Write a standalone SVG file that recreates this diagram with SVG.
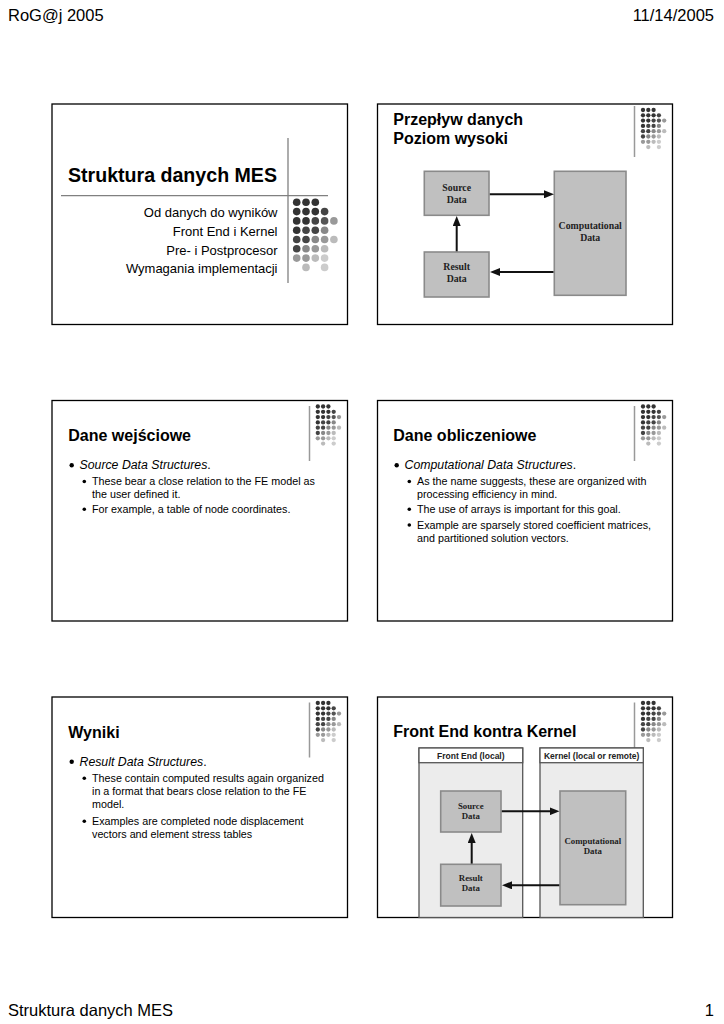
<svg xmlns="http://www.w3.org/2000/svg" xmlns:xlink="http://www.w3.org/1999/xlink" width="724" height="1024" viewBox="0 0 724 1024">
<style>
.hdr{font-family:"Liberation Sans",Arial,sans-serif;font-size:16.5px;fill:#000}
.frame{fill:#fff;stroke:#000;stroke-width:1.3}
.t1{font-family:"Liberation Sans",Arial,sans-serif;font-weight:bold;font-size:19.6px;fill:#000}
.sub{font-family:"Liberation Sans",Arial,sans-serif;font-size:13px;fill:#000}
.ttl{font-family:"Liberation Sans",Arial,sans-serif;font-weight:bold;font-size:16px;fill:#000}
.b1{font-family:"Liberation Sans",Arial,sans-serif;font-style:italic;font-size:12.3px;fill:#000}
.b2{font-family:"Liberation Sans",Arial,sans-serif;font-size:10.75px;fill:#000}
.vl{stroke:#999;stroke-width:1.5}
.box{fill:#c0c0c0;stroke:#8a8a8a;stroke-width:1.6}
.panel{fill:#ececec;stroke:#555;stroke-width:1.3}
.phead{fill:#fff;stroke:#555;stroke-width:1.3}
.dt{font-family:"Liberation Serif","Times New Roman",serif;font-weight:bold;font-size:9.8px;fill:#222;text-anchor:middle}
.dt2{font-family:"Liberation Serif","Times New Roman",serif;font-weight:bold;font-size:8.8px;fill:#222;text-anchor:middle}
.ph{font-family:"Liberation Sans",Arial,sans-serif;font-weight:bold;font-size:8.5px;fill:#222;text-anchor:middle}
.arr{stroke:#111;stroke-width:2;fill:none;marker-end:url(#ah)}
</style>
<defs>
<marker id="ah" markerUnits="userSpaceOnUse" markerWidth="10" markerHeight="8" refX="1" refY="4" orient="auto">
<path d="M0,0 L10,4 L0,8 z" fill="#111"/>
</marker>
<g id="dotgrid">
<circle cx="0" cy="0" r="3.8" fill="#333"/><circle cx="9.3" cy="0" r="3.8" fill="#333"/><circle cx="18.6" cy="0" r="3.8" fill="#333"/>
<circle cx="0" cy="9.3" r="3.8" fill="#333"/><circle cx="9.3" cy="9.3" r="3.8" fill="#333"/><circle cx="18.6" cy="9.3" r="3.8" fill="#333"/><circle cx="27.9" cy="9.3" r="3.8" fill="#444"/>
<circle cx="0" cy="18.6" r="3.8" fill="#333"/><circle cx="9.3" cy="18.6" r="3.8" fill="#333"/><circle cx="18.6" cy="18.6" r="3.8" fill="#444"/><circle cx="27.9" cy="18.6" r="3.8" fill="#555"/><circle cx="37.2" cy="18.6" r="3.8" fill="#999"/>
<circle cx="0" cy="27.9" r="3.8" fill="#333"/><circle cx="9.3" cy="27.9" r="3.8" fill="#444"/><circle cx="18.6" cy="27.9" r="3.8" fill="#444"/><circle cx="27.9" cy="27.9" r="3.8" fill="#888"/>
<circle cx="0" cy="37.2" r="3.8" fill="#444"/><circle cx="9.3" cy="37.2" r="3.8" fill="#444"/><circle cx="18.6" cy="37.2" r="3.8" fill="#888"/><circle cx="27.9" cy="37.2" r="3.8" fill="#999"/><circle cx="37.2" cy="37.2" r="3.8" fill="#bbb"/>
<circle cx="0" cy="46.5" r="3.8" fill="#444"/><circle cx="9.3" cy="46.5" r="3.8" fill="#888"/><circle cx="18.6" cy="46.5" r="3.8" fill="#999"/><circle cx="27.9" cy="46.5" r="3.8" fill="#bbb"/>
<circle cx="0" cy="55.8" r="3.8" fill="#999"/><circle cx="9.3" cy="55.8" r="3.8" fill="#999"/><circle cx="18.6" cy="55.8" r="3.8" fill="#bbb"/><circle cx="27.9" cy="55.8" r="3.8" fill="#ccc"/>
<circle cx="9.3" cy="65.1" r="3.8" fill="#bbb"/><circle cx="27.9" cy="65.1" r="3.8" fill="#ccc"/>
</g>
</defs>
<rect width="724" height="1024" fill="#fff"/>

<g id="page-header">
<text class="hdr" x="8" y="20.5">RoG@j 2005</text>
<text class="hdr" x="714" y="20.5" text-anchor="end">11/14/2005</text>
</g>
<g id="page-footer">
<text class="hdr" x="8" y="1016">Struktura danych MES</text>
<text class="hdr" x="714" y="1016" text-anchor="end">1</text>
</g>

<g id="slide1">
<rect class="frame" x="52" y="104" width="295.5" height="220.5"/>
<line x1="288" y1="138" x2="288" y2="283" stroke="#808080" stroke-width="1.3"/>
<line x1="61" y1="195.7" x2="328" y2="195.7" stroke="#808080" stroke-width="1.3"/>
<text class="t1" x="277" y="182.3" text-anchor="end">Struktura danych MES</text>
<text class="sub" x="277.5" y="217.3" text-anchor="end">Od danych do wyników</text>
<text class="sub" x="277.5" y="236" text-anchor="end">Front End i Kernel</text>
<text class="sub" x="277.5" y="254.6" text-anchor="end">Pre- i Postprocesor</text>
<text class="sub" x="277.5" y="273.3" text-anchor="end">Wymagania implementacji</text>
<use xlink:href="#dotgrid" href="#dotgrid" transform="translate(296.7,202.3)"/>
</g>

<g id="slide2">
<rect class="frame" x="377.5" y="104" width="295" height="220.5"/>
<line class="vl" x1="634.5" y1="106" x2="634.5" y2="157"/>
<use xlink:href="#dotgrid" href="#dotgrid" transform="translate(643,110) scale(0.57)"/>
<text class="ttl" x="393.3" y="125.3">Przepływ danych</text>
<text class="ttl" x="393.3" y="144.3">Poziom wysoki</text>
<g id="s2-source">
<rect class="box" x="424.3" y="171.3" width="64.7" height="44"/>
<text class="dt" x="456.7" y="191">Source</text>
<text class="dt" x="456.7" y="203">Data</text>
</g>
<g id="s2-computational">
<rect class="box" x="554.3" y="171.3" width="71.7" height="124"/>
<text class="dt" x="590.2" y="228.8">Computational</text>
<text class="dt" x="590.2" y="240.6">Data</text>
</g>
<g id="s2-result">
<rect class="box" x="424.3" y="252" width="64.7" height="45"/>
<text class="dt" x="456.7" y="270.3">Result</text>
<text class="dt" x="456.7" y="282.2">Data</text>
</g>
<g id="s2-connectors">
<line class="arr" x1="489.8" y1="194.3" x2="545" y2="194.3"/>
<line class="arr" x1="553.5" y1="272" x2="499" y2="272"/>
<line class="arr" x1="456.7" y1="251.3" x2="456.7" y2="225"/>
</g>
</g>

<g id="slide3">
<rect class="frame" x="52" y="400.5" width="295.5" height="220.5"/>
<line class="vl" x1="309.5" y1="406" x2="309.5" y2="461"/>
<use xlink:href="#dotgrid" href="#dotgrid" transform="translate(317.8,406.5) scale(0.57)"/>
<text class="ttl" x="68.3" y="441.3">Dane wejściowe</text>
<circle cx="71.7" cy="465.3" r="2.2" fill="#000"/>
<text class="b1" x="79.5" y="468.8">Source Data Structures<tspan font-style="normal">.</tspan></text>
<circle cx="84.3" cy="481.5" r="1.8" fill="#000"/>
<text class="b2" x="92" y="485.3">These bear a close relation to the FE model as</text>
<text class="b2" x="92" y="498">the user defined it.</text>
<circle cx="84.3" cy="509.3" r="1.8" fill="#000"/>
<text class="b2" x="92" y="513">For example, a table of node coordinates.</text>
</g>

<g id="slide4">
<rect class="frame" x="377.5" y="400.5" width="295" height="220.5"/>
<line class="vl" x1="634.5" y1="406" x2="634.5" y2="461"/>
<use xlink:href="#dotgrid" href="#dotgrid" transform="translate(643,406.5) scale(0.57)"/>
<text class="ttl" x="393.3" y="441.3">Dane obliczeniowe</text>
<circle cx="396.7" cy="465.3" r="2.2" fill="#000"/>
<text class="b1" x="404.5" y="468.8">Computational Data Structures<tspan font-style="normal">.</tspan></text>
<circle cx="409.3" cy="481.5" r="1.8" fill="#000"/>
<text class="b2" x="417" y="485.3">As the name suggests, these are organized with</text>
<text class="b2" x="417" y="498">processing efficiency in mind.</text>
<circle cx="409.3" cy="509.3" r="1.8" fill="#000"/>
<text class="b2" x="417" y="513">The use of arrays is important for this goal.</text>
<circle cx="409.3" cy="525" r="1.8" fill="#000"/>
<text class="b2" x="417" y="528.7">Example are sparsely stored coefficient matrices,</text>
<text class="b2" x="417" y="542">and partitioned solution vectors.</text>
</g>

<g id="slide5">
<rect class="frame" x="52" y="697" width="295.5" height="220.5"/>
<line class="vl" x1="309.5" y1="702.5" x2="309.5" y2="757.5"/>
<use xlink:href="#dotgrid" href="#dotgrid" transform="translate(317.8,703) scale(0.57)"/>
<text class="ttl" x="68.3" y="738.3">Wyniki</text>
<circle cx="71.7" cy="761.8" r="2.2" fill="#000"/>
<text class="b1" x="79.5" y="765.5">Result Data Structures<tspan font-style="normal">.</tspan></text>
<circle cx="84.3" cy="778.3" r="1.8" fill="#000"/>
<text class="b2" x="92" y="782">These contain computed results again organized</text>
<text class="b2" x="92" y="795">in a format that bears close relation to the FE</text>
<text class="b2" x="92" y="807.7">model.</text>
<circle cx="84.3" cy="821.3" r="1.8" fill="#000"/>
<text class="b2" x="92" y="825">Examples are completed node displacement</text>
<text class="b2" x="92" y="837.7">vectors and element stress tables</text>
</g>

<g id="slide6">
<rect class="frame" x="377.5" y="697" width="295" height="220.5"/>
<line class="vl" x1="634.5" y1="702.5" x2="634.5" y2="757.5"/>
<use xlink:href="#dotgrid" href="#dotgrid" transform="translate(643,703) scale(0.57)"/>
<text class="ttl" x="393.3" y="737.3">Front End kontra Kernel</text>
<g id="s6-frontend">
<rect class="panel" x="419" y="748" width="103.7" height="169.5"/>
<rect class="phead" x="419" y="748" width="103.7" height="14.7"/>
<text class="ph" x="470.8" y="759">Front End (local)</text>
</g>
<g id="s6-kernel">
<rect class="panel" x="540" y="748" width="103.3" height="169.5"/>
<rect class="phead" x="540" y="748" width="103.3" height="14.7"/>
<text class="ph" x="591.7" y="759">Kernel (local or remote)</text>
</g>
<g id="s6-source">
<rect class="box" x="440.7" y="791" width="60.3" height="41"/>
<text class="dt2" x="470.8" y="809">Source</text>
<text class="dt2" x="470.8" y="819.3">Data</text>
</g>
<g id="s6-computational">
<rect class="box" x="560" y="791" width="65.7" height="113.7"/>
<text class="dt2" x="592.8" y="843.6">Computational</text>
<text class="dt2" x="592.8" y="853.9">Data</text>
</g>
<g id="s6-result">
<rect class="box" x="440.7" y="864.3" width="60.3" height="41.7"/>
<text class="dt2" x="470.8" y="880.7">Result</text>
<text class="dt2" x="470.8" y="891">Data</text>
</g>
<g id="s6-connectors">
<line class="arr" x1="501.8" y1="811.3" x2="550.5" y2="811.3"/>
<line class="arr" x1="559.3" y1="885.3" x2="511" y2="885.3"/>
<line class="arr" x1="471.7" y1="863.6" x2="471.7" y2="842"/>
</g>
</g>
</svg>
